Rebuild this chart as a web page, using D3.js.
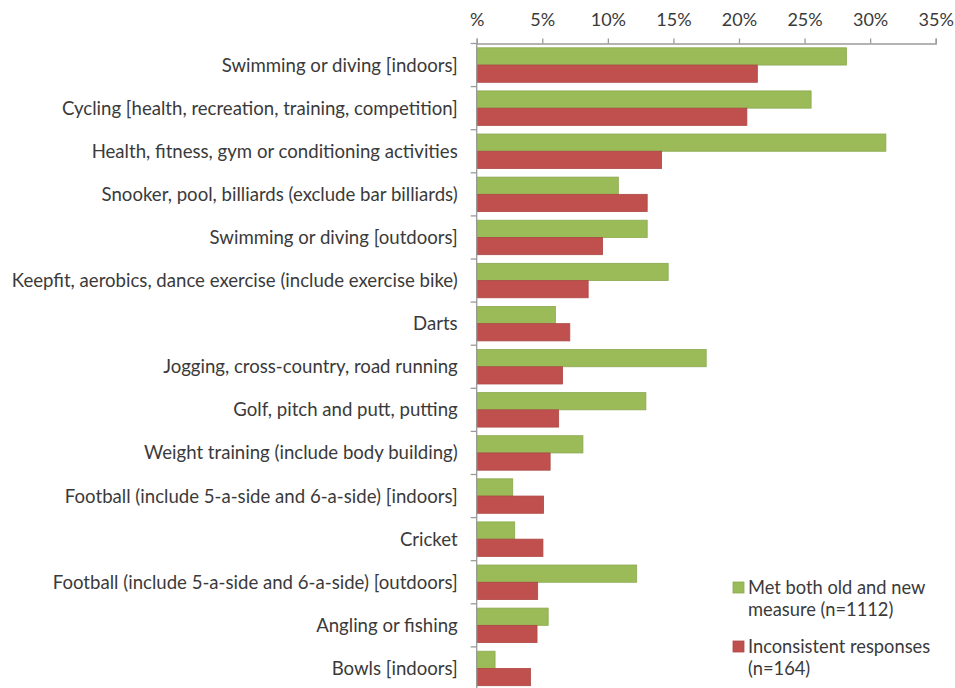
<!DOCTYPE html>
<html>
<head>
<meta charset="utf-8">
<script src="https://cdn.jsdelivr.net/npm/d3@7"></script>
<style>
  html, body { margin: 0; padding: 0; background: #fff; }
  svg { display: block; }
  text { font-family: Lato, "Open Sans", sans-serif; fill: #3a3a3a; }
</style>
</head>
<body>
<svg id="chart" width="955" height="688"></svg>
<script>
// Activities, ordered as listed in the survey table
const categories = [
  "Swimming or diving [indoors]",
  "Cycling [health, recreation, training, competition]",
  "Health, fitness, gym or conditioning activities",
  "Snooker, pool, billiards (exclude bar billiards)",
  "Swimming or diving [outdoors]",
  "Keepfit, aerobics, dance exercise (include exercise bike)",
  "Darts",
  "Jogging, cross-country, road running",
  "Golf, pitch and putt, putting",
  "Weight training (include body building)",
  "Football (include 5-a-side and 6-a-side) [indoors]",
  "Cricket",
  "Football (include 5-a-side and 6-a-side) [outdoors]",
  "Angling or fishing",
  "Bowls [indoors]"
];

// Share of respondents taking part (%)
const metBoth = [28.2, 25.5, 31.2, 10.8, 13.0, 14.6, 6.0, 17.5, 12.9, 8.1, 2.75, 2.9, 12.2, 5.45, 1.4];
const inconsistent = [21.4, 20.6, 14.1, 13.0, 9.6, 8.5, 7.1, 6.55, 6.25, 5.6, 5.1, 5.05, 4.65, 4.6, 4.1];

const seriesNames = ["Met both old and new measure (n=1112)", "Inconsistent responses (n=164)"];
const legendLines = [["Met both old and new", "measure (n=1112)"], ["Inconsistent responses", "(n=164)"]];
const xTicks = [0, 5, 10, 15, 20, 25, 30, 35];

const colors = ["#9bbb59", "#c0504d"];
const strokes = ["#8aa84f", "#ad4845"];

const svg = d3.select("#chart");
const plotLeft = 476.7, plotRight = 935.7, plotTop = 43.5, plotBottom = 690;

const x = d3.scaleLinear().domain([0, 35]).range([plotLeft, plotRight]);
const y = d3.scaleBand().domain(categories).range([plotTop, plotBottom])
  .paddingInner(0.2).paddingOuter(0.1);
const sub = d3.scaleBand().domain([0, 1]).range([0, y.bandwidth()]);

const rows = categories.map((c, i) => ({ c, v: [metBoth[i], inconsistent[i]] }));

// bars
const g = svg.append("g");
rows.forEach(r => {
  r.v.forEach((v, k) => {
    g.append("rect")
      .attr("x", x(0))
      .attr("y", y(r.c) + sub(k))
      .attr("width", x(v) - x(0))
      .attr("height", sub.bandwidth())
      .attr("fill", colors[k])
      .attr("stroke", strokes[k])
      .attr("stroke-width", 0.8);
  });
});

// top value axis
const xAxis = d3.axisTop(x).tickValues(xTicks)
  .tickFormat(d => d === 0 ? "%" : d + "%")
  .tickSize(5).tickSizeOuter(5).tickPadding(13);
const xa = svg.append("g").attr("transform", `translate(0,${plotTop})`).call(xAxis);
xa.select(".domain").attr("stroke", "#9a9a9a").attr("stroke-width", 1.3);
xa.selectAll(".tick line").attr("stroke", "#9a9a9a").attr("stroke-width", 1.3);
xa.selectAll(".tick text").attr("font-size", 18).attr("fill", "#3a3a3a")
  .style("font-family", "Lato, sans-serif");

// category axis on the left
const tickPos = d3.range(categories.length + 1).map(i => plotTop + i * y.step());
const ya = svg.append("g");
ya.append("line")
  .attr("x1", plotLeft).attr("x2", plotLeft)
  .attr("y1", plotTop).attr("y2", plotBottom)
  .attr("stroke", "#9a9a9a").attr("stroke-width", 1.3);
ya.selectAll("line.tk").data(tickPos).join("line").attr("class", "tk")
  .attr("x1", plotLeft - 6).attr("x2", plotLeft)
  .attr("y1", d => d).attr("y2", d => d)
  .attr("stroke", "#9a9a9a").attr("stroke-width", 1.3);
ya.selectAll("text").data(categories).join("text")
  .attr("x", plotLeft - 19)
  .attr("y", d => y(d) + y.bandwidth() / 2)
  .attr("dy", "0.35em")
  .attr("text-anchor", "end")
  .attr("font-size", 18.6)
  .text(d => d);

// legend
const lg = svg.append("g");
const legY = [588, 647];
legendLines.forEach((lines, k) => {
  lg.append("rect")
    .attr("x", 733).attr("y", legY[k] - 6)
    .attr("width", 11).attr("height", 11)
    .attr("fill", colors[k]).attr("stroke", strokes[k]).attr("stroke-width", 0.8);
  lines.forEach((t, j) => {
    lg.append("text")
      .attr("x", 748).attr("y", legY[k] + j * 22)
      .attr("dy", "0.35em")
      .attr("font-size", 18.3)
      .text(t);
  });
});
</script>
</body>
</html>
